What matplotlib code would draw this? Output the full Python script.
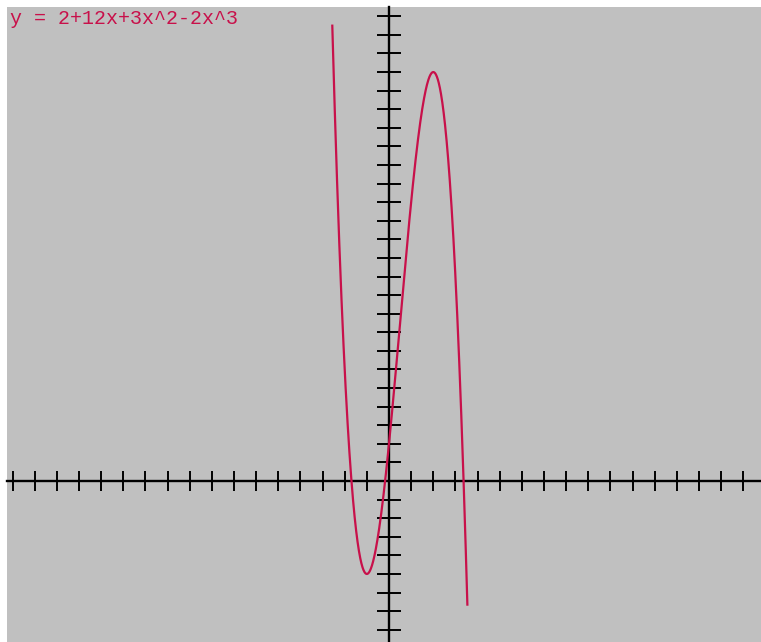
import numpy as np
import matplotlib
matplotlib.use("Agg")
import matplotlib.pyplot as plt

# y = 2 + 12x + 3x^2 - 2x^3, coefficients read from the title
coeffs = [-2, 3, 12, 2]
x_start, x_end = -2.56, 3.54
x_ticks = np.arange(-17, 17)
y_ticks = np.arange(-8, 26)
title = "y = 2+12x+3x^2-2x^3"

W, H = 761, 642
fig = plt.figure(figsize=(W / 100, H / 100), dpi=100)
fig.patch.set_facecolor("white")
ax = fig.add_axes([7 / W, 0, (W - 7) / W, (H - 7) / H])
ax.set_facecolor("#c0c0c0")

xs = np.linspace(x_start, x_end, 600)
ax.plot(xs, np.polyval(coeffs, xs), color="#c8104a", lw=1.6, zorder=3)

ax.set_xlim(-17.25, 16.8)
ax.set_ylim(-8.66, 25.5)

for s in ["top", "right"]:
    ax.spines[s].set_visible(False)
ax.spines["left"].set_position(("data", 0))
ax.spines["bottom"].set_position(("data", 0))
for s in ["left", "bottom"]:
    ax.spines[s].set_linewidth(1.7)
    ax.spines[s].set_color("black")

ax.set_xticks(x_ticks)
ax.set_yticks(y_ticks)
ax.set_xticklabels([])
ax.set_yticklabels([])
ax.tick_params(axis="x", direction="inout", length=14, width=1.4, color="black")
ax.tick_params(axis="y", direction="inout", length=17.5, width=1.4, color="black")

fig.text(10 / W, (H - 24) / H, title, family="Liberation Mono", fontsize=14.4,
         color="#c8104a", va="baseline", ha="left")

fig.savefig("out.png", dpi=100, facecolor=fig.get_facecolor())
